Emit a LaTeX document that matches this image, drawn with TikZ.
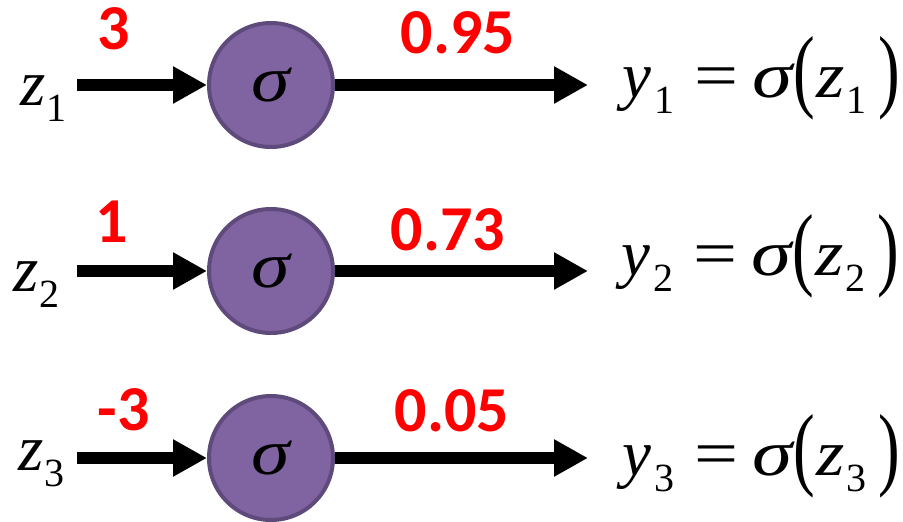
\documentclass[tikz,border=0pt]{standalone}
\usepackage{fontspec}
\usepackage{graphicx}
\setmainfont{Liberation Serif}
\newfontfamily\numfont{Carlito}
\usetikzlibrary{arrows.meta}
\definecolor{purfill}{HTML}{8064A2}
\definecolor{purline}{HTML}{5E4B7C}
\newcommand{\bigsz}{\fontsize{65}{70}\selectfont}
\newcommand{\subsz}{\fontsize{40}{44}\selectfont}
\newcommand{\sv}[2]{{\itshape #1}\kern1pt\raisebox{-16pt}{\subsz #2}}
\newcommand{\tallp}[1]{\raisebox{-3pt}{\scalebox{1}[1.42]{#1}}}
\newcommand{\eqn}[1]{{\itshape y}\kern3pt\raisebox{-16pt}{\subsz #1}\kern20pt\scalebox{1.2}[1]{=}\kern14pt\scalebox{1.25}[1]{\itshape σ}\kern1pt\tallp{(}\kern2pt\scalebox{1.12}[1]{\itshape z}\kern1pt\raisebox{-16pt}{\subsz #1}\kern12pt\tallp{)}}
\begin{document}
\begin{tikzpicture}[x=1pt,y=-1pt,
  neuron/.style={circle, fill=purfill, draw=purline, line width=4pt, minimum size=124pt, inner sep=0pt, font=\bigsz\itshape},
  arr/.style={line width=12pt, -{Triangle[length=34pt,width=35pt]}},
  val/.style={text=red, font=\numfont\bfseries\fontsize{64}{70}\selectfont, inner sep=0pt},
  mathlbl/.style={anchor=base west, inner sep=0pt, font=\bigsz}]
\useasboundingbox (0,0) rectangle (903,522);
% row 1
\node[neuron] (c1) at (271,85) {\scalebox{1.2}[1]{σ}};
\node[mathlbl] (z1) at (20,105) {\sv{z}{1}};
\coordinate (s1) at (77,85);
\coordinate (e1) at (588,85);
\draw[arr] (s1) -- (c1.west);
\draw[arr] (c1.east) -- (e1);
\node[val] (in1) at (114,29) {3};
\node[val] (out1) at (458,33) {0.95};
\node[mathlbl] (y1) at (622,97) {\eqn{1}};
% row 2
\node[neuron] (c2) at (271,271) {\scalebox{1.2}[1]{σ}};
\node[mathlbl] (z2) at (13,291) {\sv{z}{2}};
\coordinate (s2) at (77,271);
\coordinate (e2) at (588,271);
\draw[arr] (s2) -- (c2.west);
\draw[arr] (c2.east) -- (e2);
\node[val] (in2) at (112,222) {1};
\node[val] (out2) at (448,230) {0.73};
\node[mathlbl] (y2) at (621,275) {\eqn{2}};
% row 3
\node[neuron] (c3) at (271,458) {\scalebox{1.2}[1]{σ}};
\node[mathlbl] (z3) at (18,470) {\sv{z}{3}};
\coordinate (s3) at (77,458);
\coordinate (e3) at (588,458);
\draw[arr] (s3) -- (c3.west);
\draw[arr] (c3.east) -- (e3);
\node[val] (in3) at (124,410) {-3};
\node[val] (out3) at (452,411) {0.05};
\node[mathlbl] (y3) at (622,475) {\eqn{3}};
\end{tikzpicture}
\end{document}
